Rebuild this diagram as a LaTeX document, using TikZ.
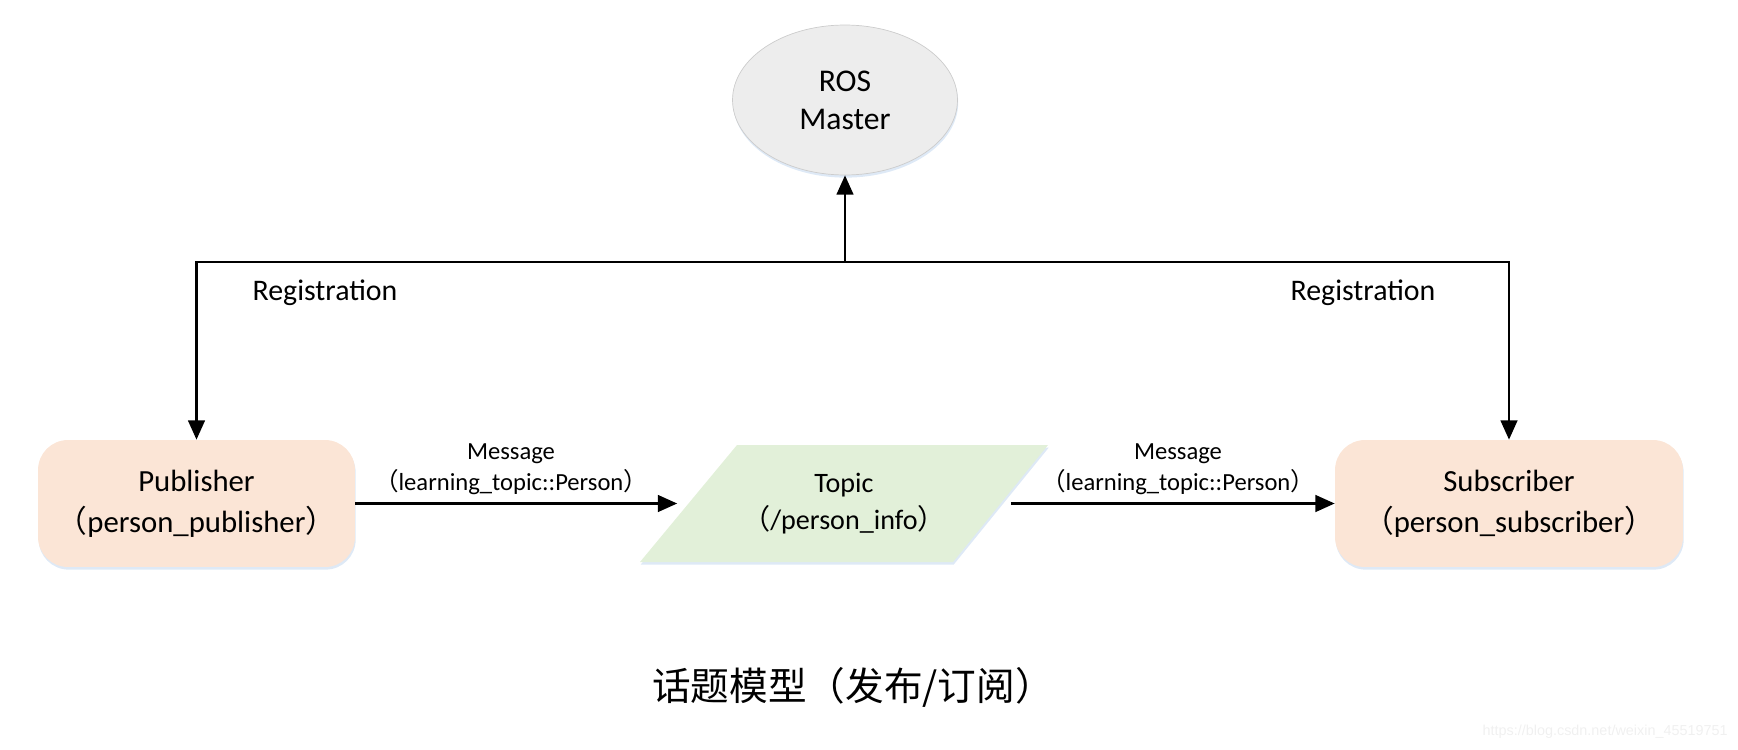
\documentclass[tikz,border=0pt]{standalone}
\usepackage{fontspec}
\setmainfont{Carlito}
\newfontfamily\cjk{Noto Sans CJK SC}
\newfontfamily\urlfont{Liberation Sans}
\usetikzlibrary{positioning, shapes, arrows.meta, shadows}

\definecolor{boxfill}{HTML}{FBE5D6}
\definecolor{topicfill}{HTML}{E2F0D9}
\definecolor{masterfill}{HTML}{EDEDED}
\definecolor{glow}{HTML}{DAE7F5}

\tikzset{
  glowshadow/.style={drop shadow={shadow xshift=0.4pt, shadow yshift=-1.5pt, fill=glow, opacity=0.9}},
  block/.style={rectangle, rounded corners=0.6cm, fill=boxfill, minimum height=2.54cm,
    inner sep=0pt, align=center, font=\fontsize{17.5}{23.2}\selectfont, glowshadow},
  conn/.style={line width=1.35pt, -{Triangle[length=11pt, width=9.5pt]}},
  lbl/.style={font=\fontsize{17}{20}\selectfont},
  msg/.style={align=center, font=\fontsize{14}{17.6}\selectfont}
}

\begin{document}
\begin{tikzpicture}[x=0.02cm, y=-0.02cm]
  \useasboundingbox (0,0) rectangle (1738,750);

  \node[ellipse, draw=gray!40, line width=0.4pt, fill=masterfill, minimum width=4.5cm,
    minimum height=3cm, inner sep=0pt, align=center, glowshadow,
    font=\fontsize{18}{21.5}\selectfont] (master) at (845,100) {ROS\\Master};

  \node[block, minimum width=6.34cm] (pub) at (196.5,503.5)
    {Publisher\\{\cjk （}person\_publisher{\cjk ）}};
  \node[block, minimum width=6.96cm] (sub) at (1509,503.5)
    {Subscriber\\{\cjk （}person\_subscriber{\cjk ）}};

  % topic parallelogram
  \fill[topicfill, glowshadow] (640,562) -- (953,562) -- (1048,445) -- (737,445) -- cycle;
  \node[rectangle, minimum width=6.66cm, minimum height=2.34cm, inner sep=0pt, align=center,
    font=\fontsize{16}{21}\selectfont] (topic) at (844,503.5)
    {Topic\\{\cjk （}/person\_info{\cjk ）}};

  % registration lines
  \coordinate (hub) at (845,262);
  \draw[conn] (hub) -- (master);
  \draw[conn] (hub) -| (pub);
  \draw[conn] (hub) -| (sub);
  \node[lbl] (regleft) at (325,293) {Registration};
  \node[lbl] (regright) at (1363,293) {Registration};

  % messages
  \draw[conn] (pub) -- (topic);
  \draw[conn] (topic) -- (sub);
  \node[msg] (msgleft) at (511,469.5) {Message\\{\cjk （}learning\_topic::Person{\cjk ）}};
  \node[msg] (msgright) at (1178,469.5) {Message\\{\cjk （}learning\_topic::Person{\cjk ）}};

  \node[font=\cjk\fontsize{22}{26}\selectfont] (caption) at (853,687) {话题模型（发布/订阅）};
  \node[anchor=east, text=gray!12, inner sep=0pt, font=\urlfont\fontsize{8.2}{10}\selectfont]
    (mark) at (1728,732) {https://blog.csdn.net/weixin\_45519751};
\end{tikzpicture}
\end{document}
